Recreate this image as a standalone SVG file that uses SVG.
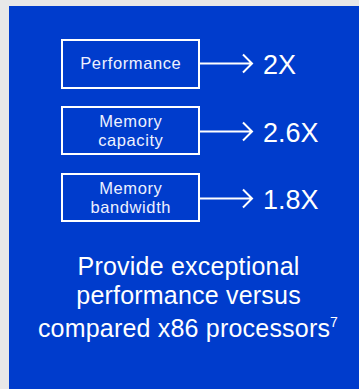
<svg xmlns="http://www.w3.org/2000/svg" width="359" height="389" viewBox="0 0 359 389">
<style>
.box{fill:none;stroke:#ffffff;stroke-width:2}
.lbl{font-family:"Liberation Sans",Arial,sans-serif;font-size:16.5px;letter-spacing:0.6px;fill:#eef1ff;text-anchor:middle}
.val{font-family:"Liberation Sans",Arial,sans-serif;font-size:27px;fill:#ffffff}
.cap{font-family:"Liberation Sans",Arial,sans-serif;font-size:25px;letter-spacing:0.2px;fill:#ffffff;text-anchor:middle}
.arr{fill:none;stroke:#ffffff;stroke-width:2}
</style>
<rect x="0" y="0" width="359" height="389" fill="#e8e8e8"/>
<rect x="9" y="6" width="350" height="383" fill="#003ccc"/>
<g id="performance">
<rect class="box" x="62" y="40" width="137" height="48"/>
<text class="lbl" x="130.8" y="69">Performance</text>
</g>
<g id="memory-capacity">
<rect class="box" x="62" y="107" width="137" height="47"/>
<text class="lbl" x="130.8" y="126.5">Memory</text>
<text class="lbl" x="130.8" y="146">capacity</text>
</g>
<g id="memory-bandwidth">
<rect class="box" x="62" y="174" width="137" height="47"/>
<text class="lbl" x="130.8" y="194">Memory</text>
<text class="lbl" x="130.8" y="213">bandwidth</text>
</g>
<g id="connectors">
<path class="arr" d="M199 63.5H252M243 54.5L252 63.5L243 72.5"/>
<path class="arr" d="M199 131.5H252M243 122.5L252 131.5L243 140.5"/>
<path class="arr" d="M199 198.5H252M243 189.5L252 198.5L243 207.5"/>
</g>
<g id="values">
<text class="val" x="263" y="74">2X</text>
<text class="val" x="263" y="142">2.6X</text>
<text class="val" x="263" y="209">1.8X</text>
</g>
<g id="caption">
<text class="cap" x="188.6" y="275">Provide exceptional</text>
<text class="cap" x="188.6" y="304">performance versus</text>
<text class="cap" x="188" y="337">compared x86 processors<tspan font-size="14" dy="-10">7</tspan></text>
</g>
</svg>
